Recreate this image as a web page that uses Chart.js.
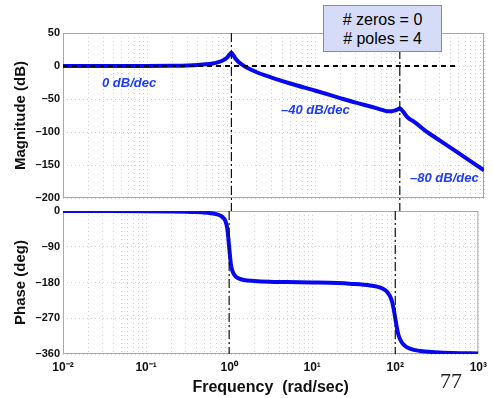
<!DOCTYPE html>
<html>
<head>
<meta charset="utf-8">
<script src="https://cdn.jsdelivr.net/npm/chart.js@4.4.0/dist/chart.umd.min.js"></script>
<style>
  body { margin: 0; background: #fff; }
  #wrap { position: relative; width: 493px; height: 398px; font-family: "Liberation Sans", Arial, sans-serif; }
  #wrap canvas { position: absolute; left: 0; top: 0; }
  .note { position: absolute; color: #1e3cff; font-weight: bold; font-style: italic; font-size: 13px; line-height: 1; white-space: nowrap; }
  #box { position: absolute; left: 323px; top: 5px; width: 119px; height: 47px; background: #d6dcf8; border: 1px solid #8a8a9a;
         font-size: 16px; line-height: 19px; text-align: center; padding-top: 4px; box-sizing: border-box; }
  #page { position: absolute; left: 440px; top: 368px; font-family: "Liberation Serif", "Times New Roman", serif; font-size: 22px; color: #222; }
</style>
</head>
<body>
<div id="wrap">
  <canvas id="magChart" width="493" height="398"></canvas>
  <canvas id="phaseChart" width="493" height="398"></canvas>
  <div class="note" style="left:102px; top:76px;">0 dB/dec</div>
  <div class="note" style="left:281px; top:103px;">–40 dB/dec</div>
  <div class="note" style="left:410px; top:171px;">–80 dB/dec</div>
  <div id="box"># zeros = 0<br># poles = 4</div>
  <div id="page">77</div>
</div>
<script>
// frequency points (rad/sec) and the values
const freq = [0.01, 0.03, 0.1, 0.2, 0.3, 0.4, 0.5, 0.6, 0.7, 0.8, 0.85, 0.9, 0.95, 1, 1.05, 1.1, 1.2, 1.3, 1.5, 2,
              3, 5, 10, 20, 30, 50, 60, 70, 80, 90, 95, 100, 105, 110, 120, 130, 150, 200, 300, 500, 1000];
const magDb = [0, 0, 0.1, 0.4, 0.8, 1.5, 2.5, 3.8, 5.8, 8.7, 10.8, 13.5, 17.3, 20, 16.7, 12.5, 6.8, 3.1, -2, -9.5,
               -17.5, -26.5, -37.5, -49, -55.5, -63, -66, -68.5, -68.5, -67, -65.5, -64, -66.5, -69.5, -76, -80, -85, -98, -113, -132, -158];
const phaseDeg = [0, -0.2, -0.6, -1.2, -1.9, -2.7, -3.8, -5.4, -7.8, -12.5, -17, -25, -44, -90, -134, -152, -165, -169.5, -173.5, -176,
                  -178, -179, -180, -181.5, -183.5, -187.5, -190.5, -195, -204, -223, -243, -270, -296, -314, -331, -339, -346.5, -352.5, -355.5, -357.5, -358.5];

const magTicks = [50, 0, -50, -100, -150, -200];
const phaseTicks = [0, -90, -180, -270, -360];
const decades = [0.01, 0.1, 1, 10, 100, 1000];
const decadeLabels = ['10⁻²', '10⁻¹', '10⁰', '10¹', '10²', '10³'];
const cornerFreqs = [1, 100];
const zeroLineFreqs = [0.01, 500];

const blue = '#0808f0';
const gridStyle = { color: '#cfcfcf', lineWidth: 1 };
const gridDash = { display: false, dash: [1, 3] };

function logTicks() {
  const t = [];
  decades.forEach((d, i) => {
    t.push({ value: d, major: true });
    if (i < decades.length - 1) {
      for (let m = 2; m < 10; m++) t.push({ value: d * m });
    }
  });
  return t;
}

function dashLabel(v) {
  return v < 0 ? '–' + Math.abs(v) : String(v);
}

// grey box around the plot area, like matlab
const frame = {
  id: 'frame',
  beforeDatasetsDraw(chart) {
    const a = chart.chartArea, c = chart.ctx;
    c.save();
    c.strokeStyle = '#a8a8a8';
    c.lineWidth = 1;
    c.strokeRect(a.left + 0.5, a.top + 0.5, a.right - a.left - 1, a.bottom - a.top - 1);
    c.restore();
  }
};

function cornerLines(yTop, yBottom) {
  return cornerFreqs.map(f => ({
    data: [{ x: f, y: yTop }, { x: f, y: yBottom }],
    borderColor: '#111',
    borderWidth: 1.2,
    borderDash: [9, 3, 2, 3],
    pointRadius: 0,
    clip: { left: 0, top: 0, right: 0, bottom: 14 }
  }));
}

const font = { family: '"Liberation Sans", Arial, sans-serif' };

new Chart(document.getElementById('magChart'), {
  type: 'line',
  data: {
    datasets: [
      {
        data: zeroLineFreqs.map(f => ({ x: f, y: 0 })),
        borderColor: '#000',
        borderWidth: 2,
        borderDash: [5, 4],
        pointRadius: 0
      },
      ...cornerLines(50, -220),
      {
        data: freq.map((f, i) => ({ x: f, y: magDb[i] })),
        borderColor: blue,
        borderWidth: 4,
        pointRadius: 0,
        cubicInterpolationMode: 'monotone'
      }
    ]
  },
  options: {
    responsive: false,
    animation: false,
    devicePixelRatio: 1,
    layout: { padding: { left: 0, top: 33, right: 9, bottom: 200 } },
    plugins: { legend: { display: false }, tooltip: { enabled: false } },
    scales: {
      x: {
        type: 'logarithmic',
        min: 0.01, max: 1000,
        afterBuildTicks: s => { s.ticks = logTicks(); },
        afterFit: s => { s.height = 0; },
        ticks: { display: false },
        grid: { ...gridStyle, drawTicks: false },
        border: gridDash
      },
      y: {
        min: -200, max: 50,
        afterBuildTicks: s => { s.ticks = magTicks.map(v => ({ value: v })); },
        afterFit: s => { s.width = 63; },
        ticks: { callback: dashLabel, color: '#111', padding: 3, font: { ...font, size: 11, weight: 'bold' } },
        grid: { ...gridStyle, drawTicks: false },
        border: gridDash,
        title: { display: true, text: 'Magnitude (dB)', color: '#111', padding: { top: 12, bottom: 0 }, font: { ...font, size: 15, weight: 'bold' } }
      }
    }
  },
  plugins: [frame]
});

new Chart(document.getElementById('phaseChart'), {
  type: 'line',
  data: {
    datasets: [
      ...cornerLines(0, -360),
      {
        data: freq.map((f, i) => ({ x: f, y: phaseDeg[i] })),
        borderColor: blue,
        borderWidth: 4,
        pointRadius: 0,
        cubicInterpolationMode: 'monotone'
      }
    ]
  },
  options: {
    responsive: false,
    animation: false,
    devicePixelRatio: 1,
    layout: { padding: { left: 0, top: 211, right: 9, bottom: 0 } },
    plugins: { legend: { display: false }, tooltip: { enabled: false } },
    scales: {
      x: {
        type: 'logarithmic',
        min: 0.01, max: 1000,
        afterBuildTicks: s => { s.ticks = logTicks(); },
        afterFit: s => { s.height = 44; },
        ticks: {
          autoSkip: false, maxRotation: 0, padding: 6, color: '#111',
          font: { ...font, size: 12, weight: 'bold' },
          callback: v => { const i = decades.indexOf(v); return i >= 0 ? decadeLabels[i] : ''; }
        },
        grid: { ...gridStyle, drawTicks: false },
        border: gridDash,
        title: { display: true, text: 'Frequency  (rad/sec)', color: '#111', padding: { top: 0, bottom: 1 }, font: { ...font, size: 16, weight: 'bold' } }
      },
      y: {
        min: -360, max: 0,
        afterBuildTicks: s => { s.ticks = phaseTicks.map(v => ({ value: v })); },
        afterFit: s => { s.width = 63; },
        ticks: { callback: dashLabel, color: '#111', padding: 3, font: { ...font, size: 11, weight: 'bold' } },
        grid: { ...gridStyle, drawTicks: false },
        border: gridDash,
        title: { display: true, text: 'Phase (deg)', color: '#111', padding: { top: 12, bottom: 0 }, font: { ...font, size: 15, weight: 'bold' } }
      }
    }
  },
  plugins: [frame]
});
</script>
</body>
</html>
